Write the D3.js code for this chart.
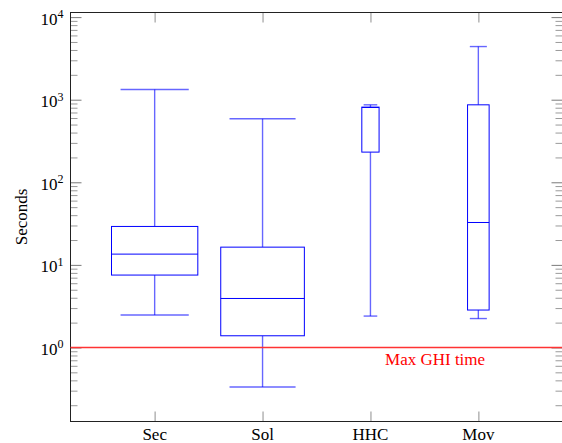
<!DOCTYPE html>
<html>
<head>
<meta charset="utf-8">
<script src="https://cdn.jsdelivr.net/npm/d3@7"></script>
<style>
  body { margin: 0; background: #fff; }
</style>
</head>
<body>
<div id="chart"></div>
<script>
// box plot values (seconds)
const categories = ["Sec", "Sol", "HHC", "Mov"];
const whiskerLow = [2.47, 0.332, 2.40, 2.24];
const q1 = [7.53, 1.386, 232, 2.84];
const median = [13.5, 3.92, 805, 32.6];
const q3 = [29.2, 16.4, 813, 867];
const whiskerHigh = [1330, 587, 867, 4400];
// box width in x units
const boxExtent = [0.8, 0.775, 0.16, 0.2];
const ghiTime = 1;
const ghiLabel = "Max GHI time";
const yMajor = [1e0, 1e1, 1e2, 1e3, 1e4];
const yLabel = "Seconds";

const margin = {top: 12.5, right: 0, bottom: 21.5, left: 70.5},
  width = 492,
  height = 409;

const svg = d3.select("#chart")
  .append("svg")
  .attr("width", 562)
  .attr("height", 443)
  .attr("font-family", "'Liberation Serif', 'DejaVu Serif', serif")
  .append("g")
  .attr("transform", `translate(${margin.left},${margin.top})`);

const boxes = categories.map((c, i) => ({
  name: c, pos: i + 1, lo: whiskerLow[i], q1: q1[i], med: median[i],
  q3: q3[i], hi: whiskerHigh[i], ext: boxExtent[i]
}));

const x = d3.scaleLinear()
  .domain([0.22, 4.78])
  .range([0, width]);

const y = d3.scaleLog()
  .domain([0.127, 11370])
  .range([height, 0]);

// minor ticks 2..9 x 10^k
const yMinor = [];
for (let e = -1; e <= 4; e++) {
  for (let m = 2; m <= 9; m++) {
    const v = m * Math.pow(10, e);
    if (v >= y.domain()[0] && v <= y.domain()[1]) yMinor.push(v);
  }
}

function styleTicks(g, color, w) {
  g.select(".domain").remove();
  g.selectAll(".tick line").attr("stroke", color).attr("stroke-width", w);
  g.selectAll(".tick text").remove();
}

// left ticks (pointing inward)
svg.append("g")
  .call(d3.axisRight(y).tickValues(yMinor).tickSize(7).tickFormat(""))
  .call(g => styleTicks(g, "#9a9a9a", 1));
svg.append("g")
  .call(d3.axisRight(y).tickValues(yMajor).tickSize(11).tickFormat(""))
  .call(g => styleTicks(g, "#7a7a7a", 1));

// right ticks
svg.append("g")
  .attr("transform", `translate(${width},0)`)
  .call(d3.axisLeft(y).tickValues(yMinor).tickSize(7).tickFormat(""))
  .call(g => styleTicks(g, "#9a9a9a", 1));
svg.append("g")
  .attr("transform", `translate(${width},0)`)
  .call(d3.axisLeft(y).tickValues(yMajor).tickSize(11).tickFormat(""))
  .call(g => styleTicks(g, "#7a7a7a", 1));

// x ticks, bottom and top
svg.append("g")
  .attr("transform", `translate(0,${height})`)
  .call(d3.axisTop(x).tickValues(boxes.map(d => d.pos)).tickSize(10).tickFormat(""))
  .call(g => styleTicks(g, "#b4b4b4", 1.5));
svg.append("g")
  .call(d3.axisBottom(x).tickValues(boxes.map(d => d.pos)).tickSize(10).tickFormat(""))
  .call(g => styleTicks(g, "#b4b4b4", 1.5));

// y tick labels 10^k
const yl = svg.append("g")
  .selectAll("text")
  .data(yMajor)
  .join("text")
  .attr("x", -7)
  .attr("y", d => y(d) + 7.5)
  .attr("text-anchor", "end")
  .attr("font-size", "17px")
  .attr("fill", "#000");
yl.append("tspan").text("10");
yl.append("tspan")
  .attr("font-size", "12px")
  .attr("dy", -6.5)
  .text(d => Math.round(Math.log10(d)));

// x tick labels
svg.append("g")
  .selectAll("text")
  .data(boxes)
  .join("text")
  .attr("x", d => x(d.pos))
  .attr("y", height + 18)
  .attr("text-anchor", "middle")
  .attr("font-size", "17px")
  .text(d => d.name);

// y axis label
svg.append("text")
  .attr("transform", "rotate(-90)")
  .attr("x", -height / 2)
  .attr("y", -44)
  .attr("text-anchor", "middle")
  .attr("font-size", "17px")
  .text(yLabel);

// box plots
const bp = svg.append("g")
  .selectAll("g")
  .data(boxes)
  .join("g")
  .attr("fill", "none")
  .attr("stroke", "#0000ff")
  .attr("stroke-width", 1);

const halfW = d => (x(d.ext) - x(0)) / 2;

// whiskers
bp.append("line")
  .attr("x1", d => x(d.pos)).attr("x2", d => x(d.pos))
  .attr("y1", d => y(d.hi)).attr("y2", d => y(d.q3))
  .attr("stroke-opacity", 0.6).attr("stroke-width", 1.4);
bp.append("line")
  .attr("x1", d => x(d.pos)).attr("x2", d => x(d.pos))
  .attr("y1", d => y(d.q1)).attr("y2", d => y(d.lo))
  .attr("stroke-opacity", 0.6).attr("stroke-width", 1.4);
// caps
bp.append("line")
  .attr("x1", d => x(d.pos) - halfW(d) * 0.79).attr("x2", d => x(d.pos) + halfW(d) * 0.79)
  .attr("y1", d => y(d.hi)).attr("y2", d => y(d.hi))
  .attr("stroke-opacity", 0.6).attr("stroke-width", 1.4);
bp.append("line")
  .attr("x1", d => x(d.pos) - halfW(d) * 0.79).attr("x2", d => x(d.pos) + halfW(d) * 0.79)
  .attr("y1", d => y(d.lo)).attr("y2", d => y(d.lo))
  .attr("stroke-opacity", 0.6).attr("stroke-width", 1.4);
// box
bp.append("rect")
  .attr("x", d => x(d.pos) - halfW(d))
  .attr("width", d => 2 * halfW(d))
  .attr("y", d => y(d.q3))
  .attr("height", d => y(d.q1) - y(d.q3))
  .attr("fill", "#fff");
// median
bp.append("line")
  .attr("x1", d => x(d.pos) - halfW(d)).attr("x2", d => x(d.pos) + halfW(d))
  .attr("y1", d => y(d.med)).attr("y2", d => y(d.med));

// frame
svg.append("rect")
  .attr("width", width)
  .attr("height", height)
  .attr("fill", "none")
  .attr("stroke", "#222")
  .attr("stroke-width", 1);

// GHI reference line, on top
svg.append("line")
  .attr("x1", 0)
  .attr("x2", width)
  .attr("y1", y(ghiTime))
  .attr("y2", y(ghiTime))
  .attr("stroke", "#ff3333")
  .attr("stroke-width", 1.5);

svg.append("text")
  .attr("x", width * 0.741)
  .attr("y", y(ghiTime) + 17.5)
  .attr("text-anchor", "middle")
  .attr("font-size", "17px")
  .attr("fill", "#ff0000")
  .text(ghiLabel);
</script>
</body>
</html>
